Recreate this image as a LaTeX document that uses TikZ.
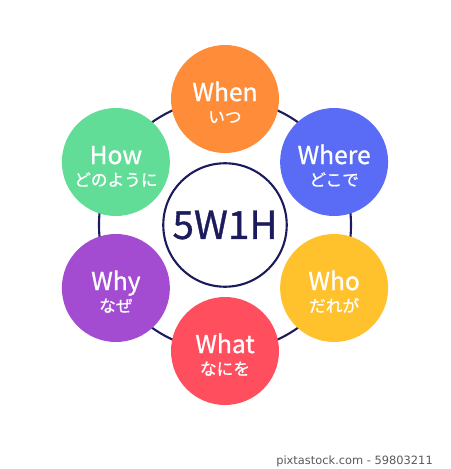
\documentclass[tikz,border=0pt]{standalone}
\usepackage{fontspec}
\setmainfont{Noto Sans CJK JP}
\newfontfamily\labelfont{Noto Sans CJK JP}[FakeBold=0.9]
\newfontfamily\creditfont{DejaVu Sans}

\definecolor{ringnavy}{RGB}{28,28,92}
\definecolor{whenorange}{RGB}{255,140,56}
\definecolor{whereblue}{RGB}{90,107,245}
\definecolor{whoyellow}{RGB}{255,193,44}
\definecolor{whatred}{RGB}{255,79,95}
\definecolor{whypurple}{RGB}{163,75,209}
\definecolor{howgreen}{RGB}{98,221,152}

\newcommand{\kana}[1]{{\fontsize{9.5}{10}\selectfont #1}}

\begin{document}
\begin{tikzpicture}[
  item/.style={circle, fill=#1, minimum size=2.16cm, inner sep=0pt,
    text=white, align=center, text height=1.16cm, text depth=0.2cm,
    font=\labelfont\fontsize{14}{12.5}\selectfont},
]
\useasboundingbox (-4.5,-4.88) rectangle (4.5,4.5);

% ring
\draw [ringnavy, line width=1.2pt] (0,0) circle (2.52);

% centre
\node [circle, draw=ringnavy, line width=1.2pt, fill=white, minimum size=2.44cm,
  text=ringnavy, font=\labelfont\fontsize{22}{22}\selectfont] (core) at (0,0) {5W1H};

% questions
\node [item=whenorange] (when) at (90:2.52) {When\\\kana{いつ}};
\node [item=whereblue] (where) at (30:2.52) {Where\\\kana{どこで}};
\node [item=whoyellow] (who) at (-30:2.52) {Who\\\kana{だれが}};
\node [item=whatred] (what) at (-90:2.52) {What\\\kana{なにを}};
\node [item=whypurple] (why) at (210:2.52) {Why\\\kana{なぜ}};
\node [item=howgreen] (how) at (150:2.52) {How\\\kana{どのように}};

% credit
\node [anchor=east, text=black!65, font=\creditfont\fontsize{6.5}{7}\selectfont]
  (credit) at (4.28,-4.72) {pixtastock.com - 59803211};
\end{tikzpicture}
\end{document}
